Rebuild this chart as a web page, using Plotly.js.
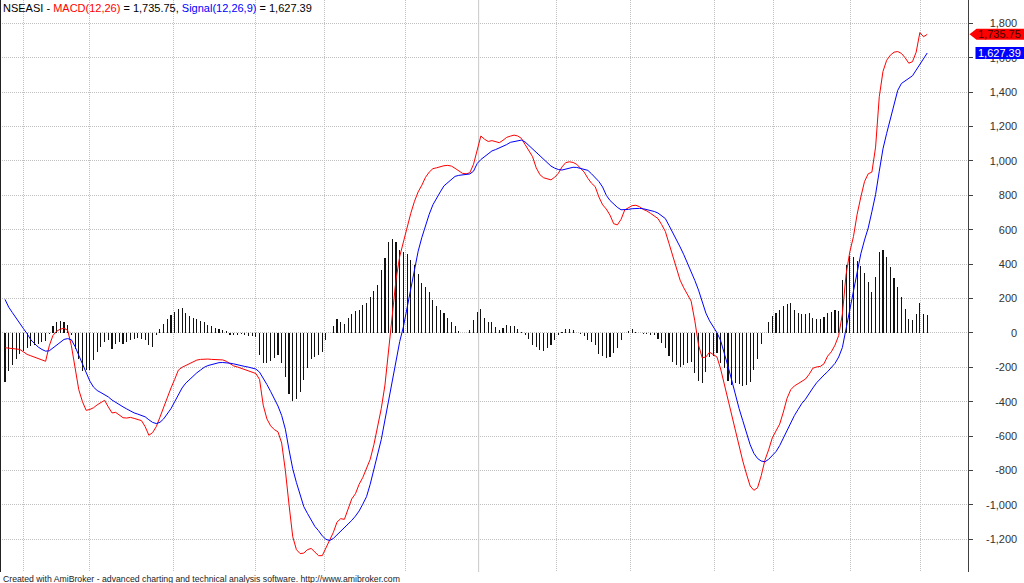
<!DOCTYPE html>
<html><head><meta charset="utf-8">
<script src="https://cdn.plot.ly/plotly-3.0.1.min.js"></script>
<style>html,body{margin:0;padding:0;background:#fff;}#chart{width:1024px;height:583px;}</style>
</head><body><div id="chart"></div>
<script>
// MACD(12,26) values, one per bar
const macd = [
 -86,-88,-90,-93,-96,-110,-125,-133,-140,-148,
 -158,-165,-75,-15,10,22,27,15,-75,-196,
 -330,-400,-450,-445,-435,-418,-405,-392,-430,-465,
 -462,-480,-493,-495,-491,-497,-502,-510,-545,-595,
 -580,-545,-490,-430,-370,-320,-270,-216,-200,-190,
 -178,-168,-158,-154,-152,-152,-154,-155,-156,-157,
 -165,-180,-192,-198,-205,-212,-218,-228,-236,-270,
 -420,-500,-540,-562,-575,-640,-800,-1000,-1185,-1260,
 -1283,-1280,-1260,-1253,-1275,-1295,-1295,-1250,-1210,-1160,
 -1100,-1080,-1084,-1025,-965,-935,-880,-840,-790,-735,
 -650,-545,-440,-303,-95,130,310,445,530,605,
 695,765,820,859,905,935,955,960,968,972,
 974,970,957,940,928,925,931,980,1060,1145,
 1126,1113,1118,1110,1106,1120,1137,1144,1150,1145,
 1131,1095,1060,1025,960,920,902,897,890,905,
 928,965,990,995,991,980,955,935,899,870,
 850,790,745,720,685,635,628,660,715,730,
 740,742,734,718,709,695,680,665,630,590,
 520,450,375,307,262,225,185,70,-70,-145,
 -140,-112,-128,-140,-210,-300,-390,-468,-570,-660,
 -745,-820,-890,-915,-900,-830,-740,-680,-610,-570,
 -530,-460,-380,-330,-308,-295,-282,-268,-240,-205,
 -198,-195,-180,-135,-110,-71,-15,110,340,470,
 560,690,790,880,925,935,1080,1373,1520,1585,
 1615,1632,1636,1625,1600,1568,1577,1632,1746,1722,
 1735.75
];
// Signal(12,26,9) values, one per bar
const signal = [
 195,150,118,85,55,25,-5,-40,-62,-82,
 -96,-106,-104,-88,-70,-52,-38,-33,-40,-80,
 -128,-175,-225,-280,-315,-335,-347,-358,-372,-390,
 -405,-418,-430,-442,-455,-465,-472,-478,-488,-505,
 -520,-527,-520,-500,-470,-440,-400,-360,-320,-292,
 -270,-250,-232,-216,-200,-190,-183,-177,-173,-172,
 -173,-176,-180,-186,-191,-195,-199,-204,-210,-228,
 -262,-300,-340,-380,-425,-480,-560,-680,-790,-870,
 -945,-1010,-1050,-1090,-1125,-1150,-1180,-1200,-1207,-1195,
 -1175,-1150,-1130,-1115,-1090,-1065,-1035,-995,-952,-880,
 -790,-710,-620,-506,-395,-280,-160,-50,36,145,
 265,380,475,555,625,690,745,785,820,855,
 875,895,910,916,918,919,924,940,985,1008,
 1025,1040,1058,1066,1075,1083,1095,1108,1113,1118,
 1121,1110,1090,1070,1048,1028,1008,988,970,958,
 950,947,953,958,963,962,957,950,945,925,
 905,880,848,800,770,748,730,716,715,718,
 722,724,724,722,718,712,706,697,682,665,
 625,585,540,500,455,408,362,305,249,175,
 115,70,36,1,-45,-115,-195,-275,-365,-440,
 -510,-580,-650,-700,-730,-745,-749,-735,-715,-690,
 -655,-610,-570,-525,-480,-445,-410,-385,-350,-320,
 -290,-265,-245,-225,-200,-177,-140,-85,25,135,
 250,355,460,540,610,705,805,940,1070,1160,
 1245,1330,1410,1450,1465,1478,1495,1528,1563,1593,
 1627.39
];
// MACD histogram values, one per bar
const hist = [
 -285,-220,-185,-152,-122,-105,-88,-78,-70,-62,-55,-45,-5,
 40,64,68,62,48,
 -10,-91,-153,-221,-213,-213,-159,-110,-81,-52,-40,-91,-62,-52,-62,-52,-43,-33,-27,-33,-39,-72,-81,-14,25,54,
 83,106,124,139,145,116,97,85,81,68,62,48,39,29,23,19,10,
 -15,-12,-10,-6,-15,-19,-19,-23,-126,-174,-174,-165,-145,-130,-174,-255,-358,-396,-383,-344,-271,-203,-151,-141,-126,-110,-43,
 2,43,81,62,54,87,112,130,135,160,174,209,246,278,367,435,526,545,526,484,472,458,425,396,342,290,265,236,193,159,131,114,87,66,39,12,2,2,19,77,124,139,87,62,62,
 33,19,27,45,39,39,23,4,-10,-33,-68,-81,-97,-106,-89,-72,-39,-15,6,23,23,15,0,-6,-19,-39,-54,-72,-122,-132,-145,-139,-116,-87,-39,0,14,23,6,0,-4,-6,-10,-15,-35,-56,
 -86,-134,-167,-187,-196,-187,-177,-167,-235,-280,-289,-225,-138,-134,-119,-177,-206,-280,-303,-293,-299,-309,-303,-284,-216,-154,-64,-3,63,98,118,133,157,168,176,133,118,110,108,114,89,81,81,95,118,120,133,130,308,395,447,443,420,389,346,298,240,323,472,482,439,381,317,265,207,137,79,75,110,176,110,104
];
const yTickVals = [-1200,-1000,-800,-600,-400,-200,0,200,400,600,800,1000,1200,1400,1600,1800];
const yTickText = ['-1,200','-1,000','-800','-600','-400','-200','0','200','400','600','800','1,000','1,200','1,400','1,600','1,800'];
const xGridDotted = [5, 23, 45.8, 67.9, 86.5, 108.6, 149.4, 169.5, 192.3, 208.3, 229.2, 248.2];
const xGridSolid = [128.4];
const ticker = 'NSEASI';
const macdName = 'MACD(12,26)';
const signalName = 'Signal(12,26,9)';
const footer = 'Created with AmiBroker - advanced charting and technical analysis software. http://www.amibroker.com';

const RED = '#ff0000', BLUE = '#0000ff', FONT = 'Liberation Sans, Arial, sans-serif';
const fmt = v => v.toLocaleString('en-US', {minimumFractionDigits:2, maximumFractionDigits:2});
const lastM = macd[macd.length-1], lastS = signal[signal.length-1];

const traces = [
 {type:'bar', y:hist, width:0.3, marker:{color:'#111', line:{width:0}}, hoverinfo:'skip'},
 {type:'scatter', mode:'lines', y:macd, line:{color:RED, width:1}, hoverinfo:'skip'},
 {type:'scatter', mode:'lines', y:signal, line:{color:BLUE, width:1}, hoverinfo:'skip'}
];

const shapes = [
 {type:'line', xref:'x', yref:'paper', x0:xGridSolid[0], x1:xGridSolid[0], y0:0, y1:1, line:{color:'#c8c8c8', width:1}, layer:'below'},
 {type:'line', xref:'paper', yref:'paper', x0:0, x1:0, y0:0, y1:1, line:{color:'#222', width:2}},
 {type:'path', xref:'paper', yref:'y', xsizemode:'pixel', ysizemode:'pixel', xanchor:1, yanchor:lastM,
  path:'M 1.5,0 L 8.5,5.5 L 56,5.5 L 56,-5.5 L 8.5,-5.5 Z', fillcolor:RED, line:{width:0}, layer:'above'},
 {type:'path', xref:'paper', yref:'y', xsizemode:'pixel', ysizemode:'pixel', xanchor:1, yanchor:lastS,
  path:'M 7.5,6 L 56,6 L 56,-6 L 7.5,-6 Z', fillcolor:BLUE, line:{width:0}, layer:'above'}
];

const annotations = [
 {xref:'paper', yref:'paper', x:0, y:1, xanchor:'left', yanchor:'top', xshift:1, yshift:0, showarrow:false,
  text: ticker + ' - <span style="color:'+RED+'">' + macdName + '</span> = ' + fmt(lastM) + ', <span style="color:'+BLUE+'">' + signalName + '</span> = ' + fmt(lastS),
  font:{family:FONT, size:11, color:'#000'}},
 {xref:'paper', yref:'paper', x:0, y:0, xanchor:'left', yanchor:'top', xshift:1, yshift:0, showarrow:false,
  text: footer, font:{family:FONT, size:8.7, color:'#222'}},
 {xref:'paper', yref:'y', x:1, y:lastM, xanchor:'right', yanchor:'middle', xshift:55, showarrow:false,
  text: fmt(lastM), font:{family:FONT, size:11, color:'#3a0000'}},
 {xref:'paper', yref:'y', x:1, y:lastS, xanchor:'right', yanchor:'middle', xshift:55, showarrow:false,
  text: fmt(lastS), font:{family:FONT, size:11, color:'#ffffff'}}
];

const layout = {
 width:1024, height:583,
 margin:{l:0, r:56, t:0, b:11, pad:0},
 paper_bgcolor:'#ffffff', plot_bgcolor:'#ffffff',
 showlegend:false, bargap:0,
 font:{family:FONT},
 xaxis:{range:[-1.355, 261.05], tickvals:xGridDotted, showticklabels:false, ticks:'',
   showgrid:true, gridcolor:'#c0c0c0', griddash:'1px,1px', gridwidth:1, zeroline:false, showline:false, fixedrange:true},
 yaxis:{range:[-1390, 1935.5], side:'right', tickvals:yTickVals, ticktext:yTickText,
   ticks:'outside', ticklen:4, tickcolor:'#404040', tickwidth:1,
   showline:true, linecolor:'#404040', linewidth:1,
   showgrid:true, gridcolor:'#c0c0c0', griddash:'1px,1px', gridwidth:1, zeroline:false,
   ticklabelposition:'inside', ticklabelstandoff:-50,
   tickfont:{family:FONT, size:11, color:'#333'}, fixedrange:true},
 shapes:shapes, annotations:annotations
};

Plotly.newPlot('chart', traces, layout, {staticPlot:true, displayModeBar:false});
</script>
</body></html>
